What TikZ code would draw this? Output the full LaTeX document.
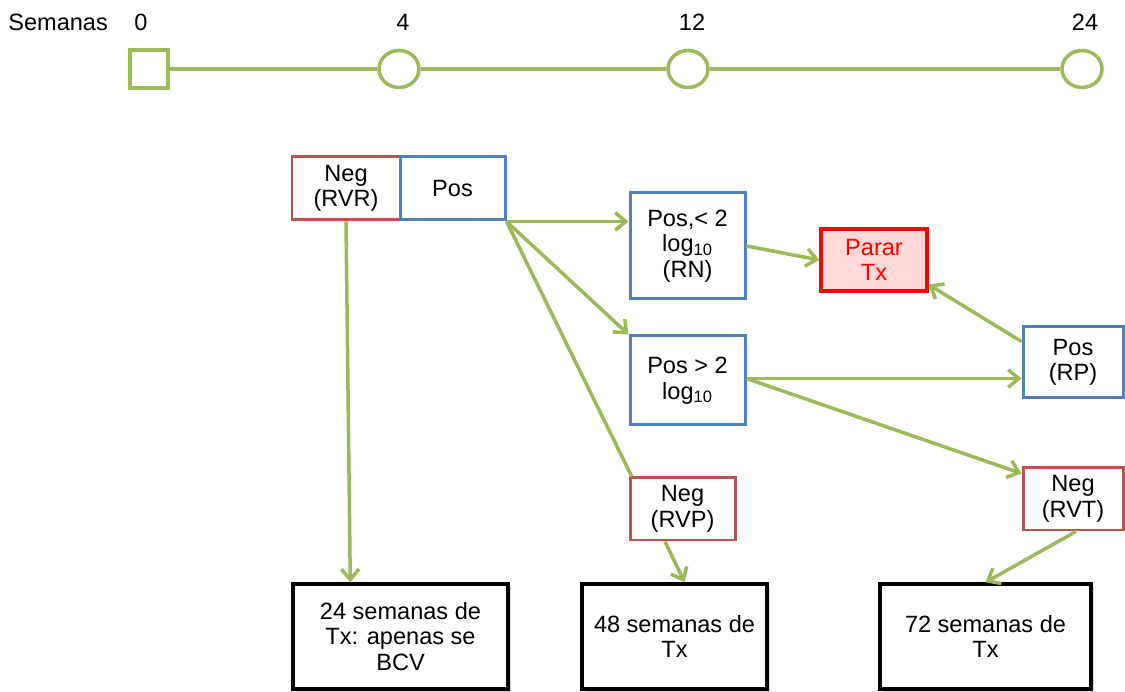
\documentclass[tikz,border=0pt]{standalone}
\usepackage{fontspec}
\setmainfont{Liberation Sans}
\usetikzlibrary{arrows.meta,positioning,shapes.geometric,calc,shadows}

\definecolor{linegreen}{RGB}{155,187,89}
\definecolor{boxblue}{RGB}{79,129,189}
\definecolor{boxred}{RGB}{192,80,77}
\definecolor{stopfill}{RGB}{255,216,216}

\begin{document}
\begin{tikzpicture}[
    >={Straight Barb[length=6pt,width=10pt]},
    every node/.style={
        font=\fontsize{13.4}{14.5}\selectfont,
        align=center,
        inner sep=0pt
    },
    timebox/.style={
        draw=linegreen,
        line width=2pt,
        minimum size=0.76cm
    },
    timecirc/.style={
        draw=linegreen,
        ellipse,
        line width=2pt,
        minimum width=0.8cm,
        minimum height=0.74cm
    },
    negbox/.style={
        draw=boxred,
        line width=1.7pt,
        fill=white
    },
    posbox/.style={
        draw=boxblue,
        line width=1.7pt,
        fill=white
    },
    stopbox/.style={
        draw=red,
        line width=1.8pt,
        fill=stopfill,
        text=red
    },
    weekbox/.style={
        draw=black,
        line width=1.9pt,
        fill=white,
        minimum height=2.1cm,
        drop shadow={shadow xshift=1.5pt,shadow yshift=-1.5pt,opacity=0.3}
    },
    flow/.style={
        draw=linegreen,
        line width=2pt
    }
    ]
    \useasboundingbox (0,0) rectangle (22.5,13.84);

    % timeline
    \node[anchor=west] (weeks) at (0.16,13.40) {Semanas};
    \node (w0)  at (2.82,13.40) {0};
    \node (w4)  at (8.06,13.40) {4};
    \node (w12) at (13.84,13.40) {12};
    \node (w24) at (21.70,13.40) {24};

    \node[timebox]  (t0)  at (2.98,12.46) {};
    \node[timecirc] (t4)  at (7.98,12.46) {};
    \node[timecirc] (t12) at (13.76,12.46) {};
    \node[timecirc] (t24) at (21.64,12.46) {};

    \draw[flow] (t0) -- (t4);
    \draw[flow] (t4) -- (t12);
    \draw[flow] (t12) -- (t24);

    % results
    \node[negbox,minimum width=2.16cm,minimum height=1.26cm] (RVR) at (6.92,10.07) {Neg\\(RVR)};
    \node[posbox,minimum width=2.10cm,minimum height=1.26cm] (pos) at (9.05,10.07) {Pos};
    \node[posbox,minimum width=2.30cm,minimum height=2.12cm] (RN) at (13.75,8.92) {Pos,< 2\\log\textsubscript{10}\\(RN)};
    \node[stopbox,minimum width=2.12cm,minimum height=1.24cm] (stop) at (17.48,8.64) {Parar\\Tx};
    \node[posbox,minimum width=2.30cm,minimum height=1.78cm] (high) at (13.75,6.23) {Pos > 2\\log\textsubscript{10}};
    \node[posbox,minimum width=2.00cm,minimum height=1.42cm] (RP) at (21.46,6.59) {Pos\\(RP)};
    \node[negbox,minimum width=2.10cm,minimum height=1.24cm] (RVP) at (13.65,3.66) {Neg\\(RVP)};
    \node[negbox,minimum width=2.00cm,minimum height=1.24cm] (RVT) at (21.46,3.86) {Neg\\(RVT)};

    % treatment length
    \node[weekbox,minimum width=4.30cm] (wk24) at (8.01,1.11) {24 semanas de\\Tx: apenas se\\BCV};
    \node[weekbox,minimum width=3.70cm] (wk48) at (13.49,1.11) {48 semanas de\\Tx};
    \node[weekbox,minimum width=4.22cm] (wk72) at (19.71,1.11) {72 semanas de\\Tx};

    \draw[flow,->] (RVR.south) -- ($(wk24.north west)!0.27!(wk24.north east)$);
    \draw[flow,->] (pos.south east) -- (pos.south east -| RN.west);
    \draw[flow,->] (pos.south east) -- (high.north west);
    \draw[flow] (pos.south east) -- ($(RVP.north west)!0.03!(RVP.north east)$);
    \draw[flow,->] (RN.east) -- (stop.west);
    \draw[flow,->] ([yshift=-0.32cm]RP.north west) -- ([yshift=0.16cm]stop.south east);
    \draw[flow,->] ([yshift=0.04cm]high.east) -- ([yshift=0.04cm]high.east -| RP.west);
    \draw[flow,->] ([yshift=0.04cm]high.east) -- ([yshift=-0.14cm]RVT.north west);
    \draw[flow,->] ([xshift=-0.35cm]RVP.south) -- ([xshift=0.2cm]wk48.north);
    \draw[flow,->] ([xshift=0.06cm]RVT.south) -- (wk72.north);
\end{tikzpicture}
\end{document}
